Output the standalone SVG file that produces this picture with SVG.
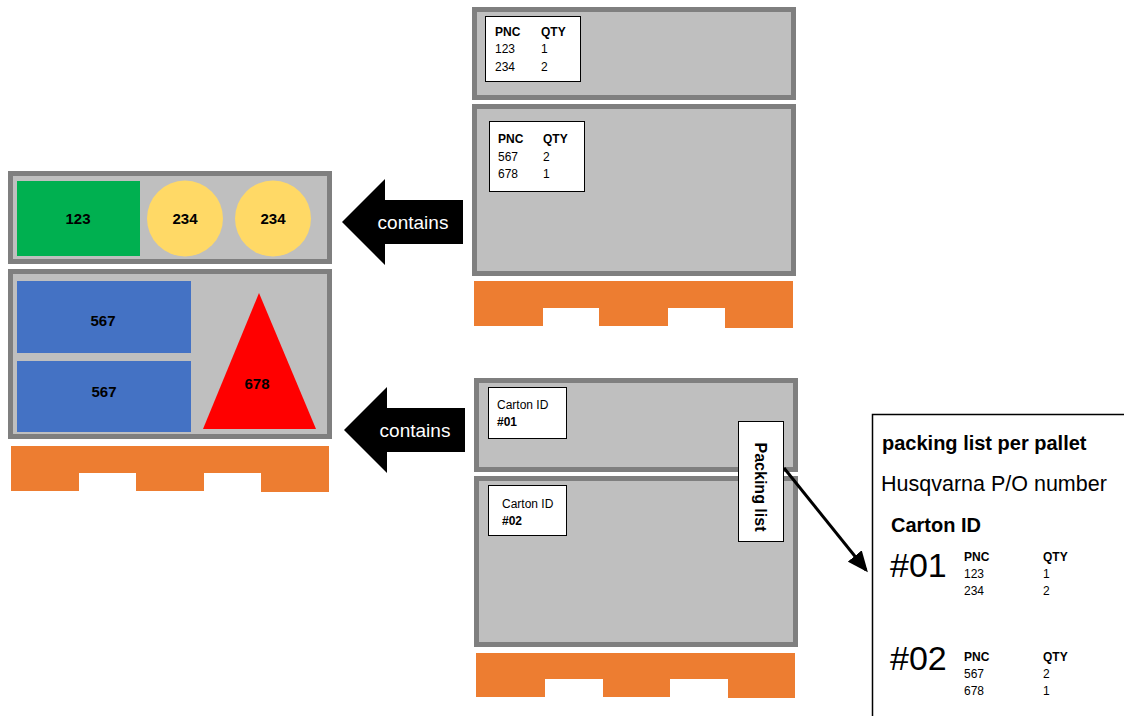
<svg xmlns="http://www.w3.org/2000/svg" width="1124" height="716" viewBox="0 0 1124 716">
<style>
.carton{fill:#BFBFBF;stroke:#7F7F7F;stroke-width:5}
.pallet{fill:#ED7D31}
.label{fill:#FFFFFF;stroke:#000;stroke-width:1}
text{font-family:"Liberation Sans",Arial,sans-serif;fill:#000}
.t12{font-size:12px}
.b{font-weight:bold}
.item{font-size:15px;font-weight:bold;text-anchor:middle}
.arrowtxt{font-size:19px;fill:#FFFFFF;text-anchor:middle}
</style>
<defs>
<marker id="ah" markerWidth="7" markerHeight="6" refX="6" refY="3" orient="auto" markerUnits="strokeWidth">
<path d="M0,0 L7,3 L0,6 Z" fill="#000"/>
</marker>
</defs>
<rect width="1124" height="716" fill="#FFFFFF"/>

<!-- Left contents -->
<g id="left-carton-top">
<rect class="carton" x="10.5" y="173.5" width="319" height="88"/>
<rect x="17" y="181" width="123" height="75" fill="#00B050"/>
<text class="item" x="78" y="224">123</text>
<circle cx="185" cy="218.5" r="38" fill="#FFD966"/>
<text class="item" x="185" y="224">234</text>
<circle cx="273" cy="218.5" r="38" fill="#FFD966"/>
<text class="item" x="273" y="224">234</text>
</g>
<g id="left-carton-bottom">
<rect class="carton" x="10.5" y="271.5" width="319" height="165"/>
<rect x="17" y="281" width="174" height="72" fill="#4472C4"/>
<text class="item" x="103" y="326">567</text>
<rect x="17" y="361" width="174" height="71" fill="#4472C4"/>
<text class="item" x="104" y="397">567</text>
<polygon points="259,293 316,429 203,429" fill="#FF0000"/>
<text class="item" x="257" y="389">678</text>
</g>
<g id="left-pallet">
<path class="pallet" d="M11,446 H329 V492 H261 V473 H204 V491 H136 V473 H79 V491 H11 Z"/>
</g>

<!-- Top right pallet -->
<g id="tr-carton-1">
<rect class="carton" x="474.5" y="9.5" width="319" height="88"/>
<rect class="label" x="485.5" y="16.5" width="95" height="65"/>
<text class="t12 b" x="495" y="36">PNC</text>
<text class="t12 b" x="541" y="36">QTY</text>
<text class="t12" x="495" y="53">123</text>
<text class="t12" x="541" y="53">1</text>
<text class="t12" x="495" y="71">234</text>
<text class="t12" x="541" y="71">2</text>
</g>
<g id="tr-carton-2">
<rect class="carton" x="474.5" y="106.5" width="319" height="167"/>
<rect class="label" x="489.5" y="121.5" width="95" height="70"/>
<text class="t12 b" x="498" y="143">PNC</text>
<text class="t12 b" x="543" y="143">QTY</text>
<text class="t12" x="498" y="161">567</text>
<text class="t12" x="543" y="161">2</text>
<text class="t12" x="498" y="178">678</text>
<text class="t12" x="543" y="178">1</text>
</g>
<g id="tr-pallet">
<path class="pallet" d="M474,281 H793 V328 H725 V308 H668 V326 H599 V308 H543 V326 H474 Z"/>
</g>

<!-- Bottom right pallet -->
<g id="br-carton-1">
<rect class="carton" x="476.5" y="380.5" width="319" height="89"/>
<rect class="label" x="488.5" y="387.5" width="78" height="51"/>
<text class="t12" x="497" y="409">Carton ID</text>
<text class="t12 b" x="497" y="426">#01</text>
</g>
<g id="br-carton-2">
<rect class="carton" x="476.5" y="478.5" width="319" height="166"/>
<rect class="label" x="488.5" y="485.5" width="78" height="50"/>
<text class="t12" x="502" y="508">Carton ID</text>
<text class="t12 b" x="502" y="525">#02</text>
</g>
<g id="packing-list-tag">
<rect class="label" x="738.5" y="421.5" width="45" height="120"/>
<text class="b" font-size="16" text-anchor="middle" transform="translate(755,487) rotate(90)">Packing list</text>
</g>
<g id="br-pallet">
<path class="pallet" d="M476,653 H795 V698 H728 V679 H670 V697 H603 V679 H545 V697 H476 Z"/>
</g>

<!-- Arrows -->
<g id="arrow-contains-1">
<polygon points="342,222 385,179 385,200 463,200 463,244 385,244 385,265" fill="#000"/>
<text class="arrowtxt" x="413" y="229">contains</text>
</g>
<g id="arrow-contains-2">
<polygon points="344,430 387,387 387,408 465,408 465,452 387,452 387,473" fill="#000"/>
<text class="arrowtxt" x="415" y="437">contains</text>
</g>

<!-- Packing list panel -->
<g id="packing-list-panel">
<path d="M872.5,716 V414.5 H1124" fill="#FFFFFF" stroke="#000" stroke-width="1.5"/>
<text class="b" font-size="20" x="882" y="450">packing list per pallet</text>
<text font-size="21.5" x="881" y="491">Husqvarna P/O number</text>
<text class="b" font-size="20" x="891" y="532">Carton ID</text>
<text font-size="34" x="890" y="577">#01</text>
<text class="t12 b" x="964" y="561">PNC</text>
<text class="t12 b" x="1043" y="561">QTY</text>
<text class="t12" x="964" y="578">123</text>
<text class="t12" x="1043" y="578">1</text>
<text class="t12" x="964" y="595">234</text>
<text class="t12" x="1043" y="595">2</text>
<text font-size="34" x="890" y="670">#02</text>
<text class="t12 b" x="964" y="661">PNC</text>
<text class="t12 b" x="1043" y="661">QTY</text>
<text class="t12" x="964" y="678">567</text>
<text class="t12" x="1043" y="678">2</text>
<text class="t12" x="964" y="695">678</text>
<text class="t12" x="1043" y="695">1</text>
</g>

<g id="connectors">
<line x1="784" y1="468" x2="866" y2="570" stroke="#000" stroke-width="3" marker-end="url(#ah)"/>
</g>
</svg>
